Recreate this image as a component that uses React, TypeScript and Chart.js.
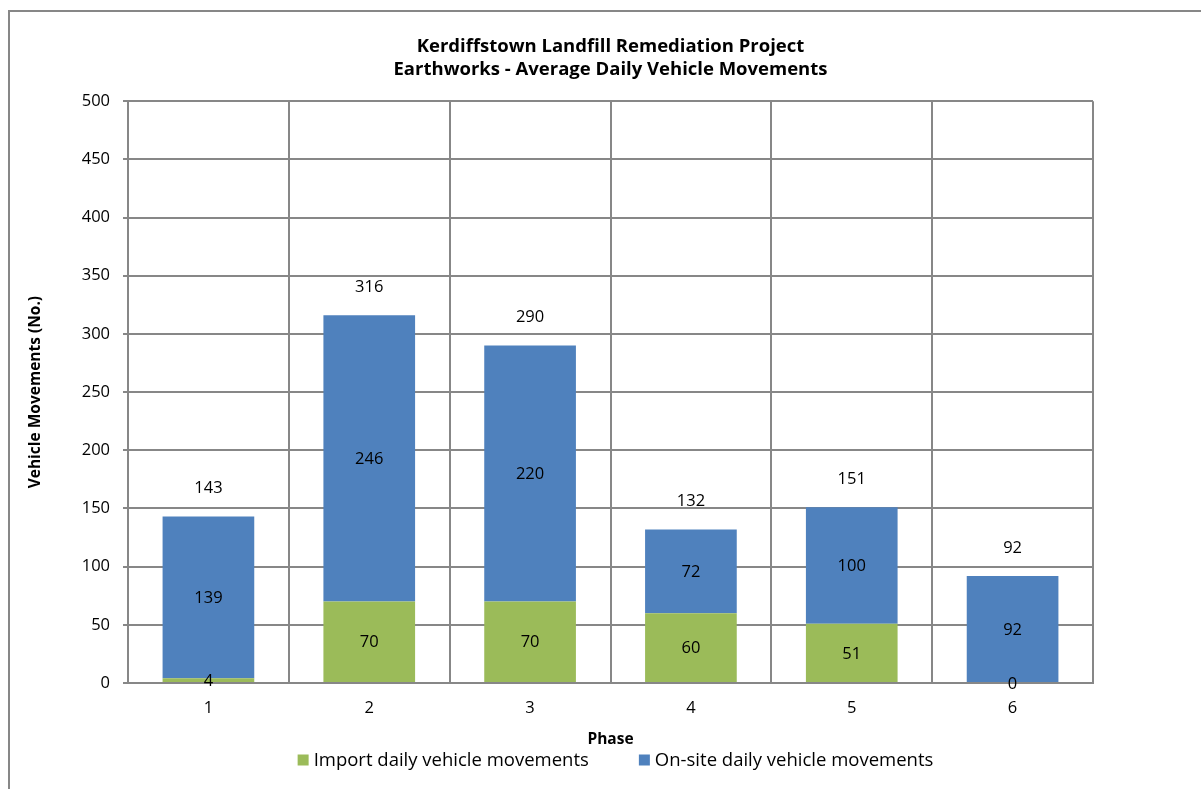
import React, { useEffect, useRef } from "react";
import { Chart, registerables } from "chart.js";

Chart.register(...registerables);

const phases = ["1", "2", "3", "4", "5", "6"];
const importMoves = [4, 70, 70, 60, 51, 0];
const onsiteMoves = [139, 246, 220, 72, 100, 92];
const seriesNames = ["Import daily vehicle movements", "On-site daily vehicle movements"];
const seriesColors = ["#9BBB59", "#4F81BD"];
const titleLines = [
  "Kerdiffstown Landfill Remediation Project",
  "Earthworks - Average Daily Vehicle Movements",
];

const FONT = "'Open Sans', sans-serif";
const GRID = "#878787";

// Outer frame and white page background.
const framePlugin = {
  id: "frame",
  beforeDraw(chart: Chart) {
    const { ctx, width, height } = chart;
    ctx.save();
    ctx.fillStyle = "#ffffff";
    ctx.fillRect(0, 0, width, height);
    ctx.strokeStyle = GRID;
    ctx.lineWidth = 2;
    ctx.beginPath();
    ctx.moveTo(9, height);
    ctx.lineTo(9, 11);
    ctx.lineTo(width, 11);
    ctx.stroke();
    ctx.restore();
  },
};

// Segment values in the middle of each stack piece, totals above each bar.
const valueLabels = {
  id: "valueLabels",
  afterDatasetsDraw(chart: Chart) {
    const { ctx } = chart;
    ctx.save();
    ctx.font = `16.5px ${FONT}`;
    ctx.fillStyle = "#000";
    ctx.textAlign = "center";
    ctx.textBaseline = "middle";
    chart.data.datasets.forEach((ds, di) => {
      const meta = chart.getDatasetMeta(di);
      meta.data.forEach((el: any, i: number) => {
        const v = ds.data[i] as number;
        ctx.fillText(String(v), el.x, (el.y + el.base) / 2 + 1);
      });
    });
    const top = chart.getDatasetMeta(chart.data.datasets.length - 1);
    top.data.forEach((el: any, i: number) => {
      const total = importMoves[i] + onsiteMoves[i];
      ctx.fillText(String(total), el.x, el.y - 28);
    });
    ctx.restore();
  },
};

// Single-row legend under the axis title, centred on the plot area.
const bottomLegend = {
  id: "bottomLegend",
  afterDraw(chart: Chart) {
    const { ctx, chartArea } = chart;
    const box = 11;
    const gap = 5;
    const spacing = 50;
    ctx.save();
    ctx.font = `18.5px ${FONT}`;
    ctx.textBaseline = "middle";
    ctx.textAlign = "left";
    const widths = chart.data.datasets.map((d) => ctx.measureText(String(d.label)).width);
    const total = widths.reduce((a, w) => a + box + gap + w, 0) + spacing * (widths.length - 1);
    let x = (chartArea.left + chartArea.right) / 2 + 5 - total / 2;
    const y = 760;
    chart.data.datasets.forEach((d, i) => {
      ctx.fillStyle = d.backgroundColor as string;
      ctx.fillRect(x, y - box / 2, box, box);
      ctx.fillStyle = "#000";
      ctx.fillText(String(d.label), x + box + gap, y + 1);
      x += box + gap + widths[i] + spacing;
    });
    ctx.restore();
  },
};

export default function App() {
  const ref = useRef<HTMLCanvasElement>(null);

  useEffect(() => {
    if (!ref.current) return;
    const chart = new Chart(ref.current, {
      type: "bar",
      data: {
        labels: phases,
        datasets: [
          {
            label: seriesNames[0],
            data: importMoves,
            backgroundColor: seriesColors[0],
            barPercentage: 0.57,
            categoryPercentage: 1,
          },
          {
            label: seriesNames[1],
            data: onsiteMoves,
            backgroundColor: seriesColors[1],
            barPercentage: 0.57,
            categoryPercentage: 1,
          },
        ],
      },
      options: {
        responsive: false,
        animation: false,
        layout: { padding: { left: 10, right: 108, top: 35, bottom: 42 } },
        plugins: {
          title: {
            display: true,
            fullSize: false,
            text: titleLines,
            color: "#000",
            font: { family: FONT, size: 18.5, weight: "bold", lineHeight: 1.25 },
            padding: { top: 0, bottom: 20 },
          },
          legend: { display: false },
          tooltip: { enabled: false },
        },
        scales: {
          x: {
            stacked: true,
            grid: { color: GRID, lineWidth: 2, drawTicks: false },
            border: { color: GRID, width: 2 },
            ticks: { color: "#000", font: { family: FONT, size: 16.5 }, padding: 15 },
            title: {
              display: true,
              text: "Phase",
              color: "#000",
              font: { family: FONT, size: 15.5, weight: "bold" },
              padding: { top: 0, bottom: -2 },
            },
            afterFit(scale: any) {
              scale.height = 64;
            },
          },
          y: {
            stacked: true,
            min: 0,
            max: 500,
            grid: { color: GRID, lineWidth: 2, tickLength: 5 },
            border: { color: GRID, width: 2 },
            ticks: { stepSize: 50, color: "#000", font: { family: FONT, size: 16.5 }, padding: 13 },
            title: {
              display: true,
              text: "Vehicle Movements (No.)",
              color: "#000",
              font: { family: FONT, size: 15.5, weight: "bold" },
              padding: { top: 16, bottom: 0 },
            },
            afterFit(scale: any) {
              scale.width = 118;
            },
          },
        },
      },
      plugins: [framePlugin, valueLabels, bottomLegend],
    });
    return () => chart.destroy();
  }, []);

  return (
    <div style={{ position: "absolute", left: 0, top: 0, width: 1201, height: 789 }}>
      <canvas ref={ref} width={1201} height={789} style={{ display: "block" }} />
    </div>
  );
}
